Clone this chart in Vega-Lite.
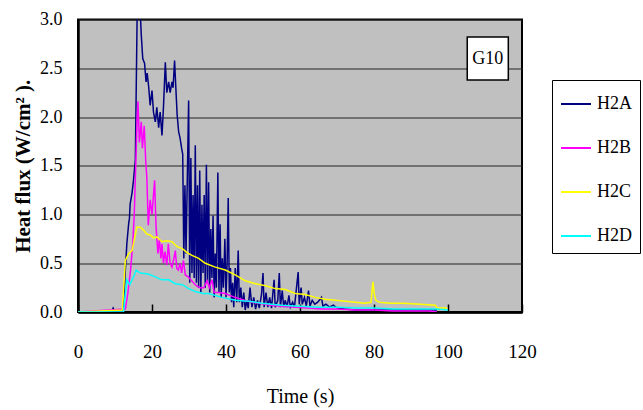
{
  "$schema": "https://vega.github.io/schema/vega-lite/v6.json",
  "width": 444,
  "height": 292.5,
  "autosize": {"type": "none"},
  "padding": {"left": 78, "top": 19.5, "right": 121, "bottom": 98},
  "background": "white",
  "config": {
    "view": {"fill": "#C0C0C0", "stroke": "black", "strokeWidth": 2},
    "font": "Liberation Serif"
  },
  "layer": [
    {
      "data": {"values": [
        {"s":"H2A","t":0,"v":0},{"s":"H2A","t":9,"v":0},{"s":"H2A","t":9.5,"v":0.04},{"s":"H2A","t":10,"v":0},{"s":"H2A","t":12,"v":0},
        {"s":"H2A","t":12.3,"v":0.05},{"s":"H2A","t":12.8,"v":0.43},{"s":"H2A","t":13.2,"v":0.7},{"s":"H2A","t":13.7,"v":0.91},{"s":"H2A","t":13.9,"v":0.96},
        {"s":"H2A","t":14.1,"v":1.11},{"s":"H2A","t":14.6,"v":1.22},{"s":"H2A","t":15,"v":1.35},{"s":"H2A","t":15.5,"v":1.56},{"s":"H2A","t":16,"v":3.1},
        {"s":"H2A","t":16.8,"v":3.1},{"s":"H2A","t":17.1,"v":2.84},{"s":"H2A","t":17.5,"v":2.6},{"s":"H2A","t":18,"v":2.55},{"s":"H2A","t":18.2,"v":2.45},
        {"s":"H2A","t":18.4,"v":2.36},{"s":"H2A","t":18.7,"v":2.45},{"s":"H2A","t":19.1,"v":2.31},{"s":"H2A","t":19.5,"v":2.12},{"s":"H2A","t":20,"v":2.27},
        {"s":"H2A","t":20.4,"v":2.05},{"s":"H2A","t":20.9,"v":1.95},{"s":"H2A","t":21.3,"v":2.1},{"s":"H2A","t":21.8,"v":1.89},{"s":"H2A","t":22.2,"v":2.05},
        {"s":"H2A","t":22.7,"v":1.81},{"s":"H2A","t":23.1,"v":2.1},{"s":"H2A","t":23.6,"v":2.56},{"s":"H2A","t":24,"v":2.25},{"s":"H2A","t":24.5,"v":2.36},
        {"s":"H2A","t":24.9,"v":2.25},{"s":"H2A","t":25.4,"v":2.36},{"s":"H2A","t":25.7,"v":2.3},{"s":"H2A","t":26.1,"v":2.58},{"s":"H2A","t":26.4,"v":2.33},
        {"s":"H2A","t":26.8,"v":2.02},{"s":"H2A","t":27.2,"v":1.85},{"s":"H2A","t":27.6,"v":1.78},{"s":"H2A","t":28,"v":1.68},{"s":"H2A","t":28.3,"v":1.62},
        {"s":"H2A","t":28.6,"v":0.55},{"s":"H2A","t":28.9,"v":1.3},{"s":"H2A","t":29.2,"v":0.6},{"s":"H2A","t":29.6,"v":1.5},{"s":"H2A","t":29.9,"v":2.17},
        {"s":"H2A","t":30.2,"v":0.3},{"s":"H2A","t":30.5,"v":1.58},{"s":"H2A","t":30.8,"v":0.4},{"s":"H2A","t":31.1,"v":1.2},{"s":"H2A","t":31.4,"v":0.35},
        {"s":"H2A","t":31.7,"v":1.71},{"s":"H2A","t":32,"v":0.3},{"s":"H2A","t":32.3,"v":1.3},{"s":"H2A","t":32.6,"v":0.25},{"s":"H2A","t":32.9,"v":1.45},
        {"s":"H2A","t":33.2,"v":0.2},{"s":"H2A","t":33.5,"v":1.1},{"s":"H2A","t":33.8,"v":0.4},{"s":"H2A","t":34.1,"v":1.2},{"s":"H2A","t":34.4,"v":0.25},
        {"s":"H2A","t":34.7,"v":1.51},{"s":"H2A","t":35,"v":0.3},{"s":"H2A","t":35.3,"v":1.33},{"s":"H2A","t":35.6,"v":0.2},{"s":"H2A","t":35.9,"v":0.85},
        {"s":"H2A","t":36.2,"v":0.35},{"s":"H2A","t":36.5,"v":0.99},{"s":"H2A","t":36.8,"v":0.15},{"s":"H2A","t":37.1,"v":0.6},{"s":"H2A","t":37.4,"v":0.25},
        {"s":"H2A","t":37.8,"v":1.43},{"s":"H2A","t":38.1,"v":0.2},{"s":"H2A","t":38.4,"v":0.9},{"s":"H2A","t":38.7,"v":0.15},{"s":"H2A","t":39,"v":0.55},
        {"s":"H2A","t":39.3,"v":0.25},{"s":"H2A","t":39.7,"v":0.75},{"s":"H2A","t":40,"v":0.15},{"s":"H2A","t":40.3,"v":0.5},{"s":"H2A","t":40.6,"v":1.17},
        {"s":"H2A","t":40.9,"v":0.2},{"s":"H2A","t":41.2,"v":0.45},{"s":"H2A","t":41.5,"v":0.1},{"s":"H2A","t":41.8,"v":0.3},{"s":"H2A","t":42.1,"v":0.05},
        {"s":"H2A","t":42.5,"v":0.45},{"s":"H2A","t":42.9,"v":0.1},{"s":"H2A","t":43.3,"v":0.63},{"s":"H2A","t":43.6,"v":0.1},{"s":"H2A","t":44,"v":0.25},
        {"s":"H2A","t":44.4,"v":0.05},{"s":"H2A","t":44.8,"v":0.2},{"s":"H2A","t":45.2,"v":0.02},{"s":"H2A","t":45.6,"v":0.12},{"s":"H2A","t":46,"v":0.04},
        {"s":"H2A","t":46.5,"v":0.25},{"s":"H2A","t":47,"v":0.05},{"s":"H2A","t":47.5,"v":0.15},{"s":"H2A","t":48,"v":0.03},{"s":"H2A","t":48.5,"v":0.12},
        {"s":"H2A","t":49,"v":0.04},{"s":"H2A","t":49.6,"v":0.18},{"s":"H2A","t":50,"v":0.4},{"s":"H2A","t":50.3,"v":0.05},{"s":"H2A","t":50.8,"v":0.2},
        {"s":"H2A","t":51.3,"v":0.05},{"s":"H2A","t":51.8,"v":0.15},{"s":"H2A","t":52.3,"v":0.04},{"s":"H2A","t":53,"v":0.33},{"s":"H2A","t":53.3,"v":0.05},
        {"s":"H2A","t":54,"v":0.12},{"s":"H2A","t":54.4,"v":0.4},{"s":"H2A","t":54.7,"v":0.05},{"s":"H2A","t":55.2,"v":0.22},{"s":"H2A","t":55.6,"v":0.05},
        {"s":"H2A","t":56,"v":0.12},{"s":"H2A","t":56.5,"v":0.05},{"s":"H2A","t":57,"v":0.17},{"s":"H2A","t":57.4,"v":0.05},{"s":"H2A","t":58,"v":0.1},
        {"s":"H2A","t":58.5,"v":0.05},{"s":"H2A","t":59.5,"v":0.41},{"s":"H2A","t":59.8,"v":0.08},{"s":"H2A","t":60.3,"v":0.25},{"s":"H2A","t":60.6,"v":0.08},
        {"s":"H2A","t":61.2,"v":0.15},{"s":"H2A","t":61.7,"v":0.06},{"s":"H2A","t":62.3,"v":0.22},{"s":"H2A","t":62.7,"v":0.06},{"s":"H2A","t":63.3,"v":0.12},
        {"s":"H2A","t":64,"v":0.08},{"s":"H2A","t":64.8,"v":0.1},{"s":"H2A","t":65.8,"v":0.15},{"s":"H2A","t":66.2,"v":0.06},{"s":"H2A","t":67,"v":0.08},
        {"s":"H2A","t":68,"v":0.05},{"s":"H2A","t":69,"v":0.07},{"s":"H2A","t":70,"v":0.04},{"s":"H2A","t":72,"v":0.03},{"s":"H2A","t":75,"v":0.02},
        {"s":"H2A","t":80,"v":0.02},{"s":"H2A","t":85,"v":0.02},{"s":"H2A","t":90,"v":0.02},{"s":"H2A","t":95,"v":0.02},{"s":"H2A","t":97,"v":0.02},

        {"s":"H2B","t":0,"v":0},{"s":"H2B","t":12.8,"v":0.03},{"s":"H2B","t":13.5,"v":0.2},{"s":"H2B","t":14.2,"v":0.43},{"s":"H2B","t":14.8,"v":0.7},
        {"s":"H2B","t":15.2,"v":1.0},{"s":"H2B","t":15.6,"v":1.5},{"s":"H2B","t":16,"v":2.0},{"s":"H2B","t":16.2,"v":2.16},{"s":"H2B","t":16.6,"v":1.74},
        {"s":"H2B","t":17.1,"v":1.95},{"s":"H2B","t":17.4,"v":1.68},{"s":"H2B","t":17.9,"v":1.91},{"s":"H2B","t":18.3,"v":1.55},{"s":"H2B","t":18.6,"v":1.38},
        {"s":"H2B","t":19,"v":0.89},{"s":"H2B","t":19.5,"v":1.15},{"s":"H2B","t":20,"v":1.0},{"s":"H2B","t":20.4,"v":1.2},{"s":"H2B","t":20.7,"v":1.35},
        {"s":"H2B","t":21.1,"v":0.87},{"s":"H2B","t":21.6,"v":0.6},{"s":"H2B","t":22,"v":0.75},{"s":"H2B","t":22.4,"v":0.55},{"s":"H2B","t":22.7,"v":0.7},
        {"s":"H2B","t":23.1,"v":0.5},{"s":"H2B","t":23.5,"v":0.62},{"s":"H2B","t":24,"v":0.48},{"s":"H2B","t":24.4,"v":0.7},{"s":"H2B","t":24.9,"v":0.5},
        {"s":"H2B","t":25.4,"v":0.46},{"s":"H2B","t":25.9,"v":0.55},{"s":"H2B","t":26.3,"v":0.63},{"s":"H2B","t":26.7,"v":0.45},{"s":"H2B","t":27.1,"v":0.43},
        {"s":"H2B","t":27.6,"v":0.5},{"s":"H2B","t":28,"v":0.4},{"s":"H2B","t":28.5,"v":0.53},{"s":"H2B","t":29,"v":0.38},{"s":"H2B","t":29.8,"v":0.36},
        {"s":"H2B","t":30.5,"v":0.33},{"s":"H2B","t":31.2,"v":0.3},{"s":"H2B","t":32,"v":0.27},{"s":"H2B","t":33,"v":0.25},{"s":"H2B","t":34,"v":0.25},
        {"s":"H2B","t":34.9,"v":0.32},{"s":"H2B","t":35.5,"v":0.25},{"s":"H2B","t":36.2,"v":0.33},{"s":"H2B","t":36.8,"v":0.2},{"s":"H2B","t":38,"v":0.2},
        {"s":"H2B","t":39.8,"v":0.19},{"s":"H2B","t":41,"v":0.17},{"s":"H2B","t":42.5,"v":0.15},{"s":"H2B","t":45,"v":0.12},{"s":"H2B","t":47,"v":0.1},
        {"s":"H2B","t":49,"v":0.09},{"s":"H2B","t":52,"v":0.07},{"s":"H2B","t":55,"v":0.06},{"s":"H2B","t":58,"v":0.05},{"s":"H2B","t":62,"v":0.04},
        {"s":"H2B","t":66,"v":0.03},{"s":"H2B","t":70,"v":0.03},{"s":"H2B","t":75,"v":0.02},{"s":"H2B","t":80,"v":0.02},{"s":"H2B","t":85,"v":0.01},
        {"s":"H2B","t":90,"v":0.01},{"s":"H2B","t":95,"v":0.01},{"s":"H2B","t":97,"v":0.0},

        {"s":"H2C","t":0,"v":0},{"s":"H2C","t":12,"v":0.02},{"s":"H2C","t":12.8,"v":0.53},{"s":"H2C","t":13.7,"v":0.6},{"s":"H2C","t":14.6,"v":0.63},
        {"s":"H2C","t":15.2,"v":0.74},{"s":"H2C","t":15.9,"v":0.87},{"s":"H2C","t":16.8,"v":0.87},{"s":"H2C","t":17.7,"v":0.84},{"s":"H2C","t":18.6,"v":0.8},
        {"s":"H2C","t":19.5,"v":0.79},{"s":"H2C","t":20.4,"v":0.76},{"s":"H2C","t":21.3,"v":0.77},{"s":"H2C","t":22.7,"v":0.72},{"s":"H2C","t":24,"v":0.73},
        {"s":"H2C","t":25.4,"v":0.72},{"s":"H2C","t":26.8,"v":0.67},{"s":"H2C","t":28.2,"v":0.65},{"s":"H2C","t":29.5,"v":0.61},{"s":"H2C","t":30.8,"v":0.58},
        {"s":"H2C","t":32.6,"v":0.55},{"s":"H2C","t":34.4,"v":0.5},{"s":"H2C","t":37.1,"v":0.46},{"s":"H2C","t":39.8,"v":0.43},{"s":"H2C","t":42.5,"v":0.38},
        {"s":"H2C","t":45.2,"v":0.32},{"s":"H2C","t":48,"v":0.29},{"s":"H2C","t":50.7,"v":0.27},{"s":"H2C","t":53.3,"v":0.24},{"s":"H2C","t":56,"v":0.23},
        {"s":"H2C","t":58.7,"v":0.19},{"s":"H2C","t":61.4,"v":0.18},{"s":"H2C","t":64.1,"v":0.15},{"s":"H2C","t":66.8,"v":0.13},{"s":"H2C","t":69.6,"v":0.12},
        {"s":"H2C","t":72.3,"v":0.11},{"s":"H2C","t":75,"v":0.1},{"s":"H2C","t":77.6,"v":0.09},{"s":"H2C","t":79.2,"v":0.1},{"s":"H2C","t":79.7,"v":0.31},
        {"s":"H2C","t":80.1,"v":0.18},{"s":"H2C","t":80.5,"v":0.12},{"s":"H2C","t":81.5,"v":0.1},{"s":"H2C","t":84.4,"v":0.09},{"s":"H2C","t":88,"v":0.09},
        {"s":"H2C","t":92.5,"v":0.08},{"s":"H2C","t":96.6,"v":0.07},{"s":"H2C","t":97,"v":0.04},{"s":"H2C","t":99.8,"v":0.04},

        {"s":"H2D","t":0,"v":0},{"s":"H2D","t":12.3,"v":0.0},{"s":"H2D","t":13.2,"v":0.33},{"s":"H2D","t":14,"v":0.28},{"s":"H2D","t":15,"v":0.36},
        {"s":"H2D","t":15.7,"v":0.43},{"s":"H2D","t":16.8,"v":0.4},{"s":"H2D","t":19,"v":0.39},{"s":"H2D","t":20.9,"v":0.36},{"s":"H2D","t":22.7,"v":0.33},
        {"s":"H2D","t":24.5,"v":0.33},{"s":"H2D","t":26.3,"v":0.29},{"s":"H2D","t":28.2,"v":0.28},{"s":"H2D","t":29.9,"v":0.24},{"s":"H2D","t":31.7,"v":0.21},
        {"s":"H2D","t":33.9,"v":0.19},{"s":"H2D","t":35.3,"v":0.19},{"s":"H2D","t":38.9,"v":0.15},{"s":"H2D","t":42.5,"v":0.12},{"s":"H2D","t":46.1,"v":0.11},
        {"s":"H2D","t":49.7,"v":0.09},{"s":"H2D","t":55,"v":0.07},{"s":"H2D","t":60,"v":0.06},{"s":"H2D","t":65,"v":0.05},{"s":"H2D","t":70,"v":0.05},
        {"s":"H2D","t":75,"v":0.04},{"s":"H2D","t":80,"v":0.04},{"s":"H2D","t":85,"v":0.03},{"s":"H2D","t":90,"v":0.03},{"s":"H2D","t":95,"v":0.03},
        {"s":"H2D","t":97,"v":0.03},{"s":"H2D","t":100,"v":0.02}
      ]},
      "mark": {"type": "line", "clip": true, "strokeWidth": 1.5, "interpolate": "linear"},
      "encoding": {
        "x": {"field": "t", "type": "quantitative",
          "scale": {"domain": [0, 120], "nice": false},
          "axis": {"values": [0, 20, 40, 60, 80, 100, 120], "grid": false,
            "title": "Time (s)", "titleFont": "Liberation Serif", "titleFontSize": 20, "titleFontWeight": "normal", "titleColor": "black", "titlePadding": 25,
            "labelFont": "Liberation Serif", "labelFontSize": 19, "labelColor": "black", "labelPadding": 38, "labelBaseline": "top", "labelFlush": false, "labelOverlap": false,
            "tickSize": -8, "tickColor": "black", "tickWidth": 1.5,
            "domainColor": "black", "domainWidth": 2.5}},
        "y": {"field": "v", "type": "quantitative",
          "scale": {"domain": [0, 3], "nice": false},
          "axis": {"values": [0, 0.5, 1, 1.5, 2, 2.5, 3], "format": ".1f", "grid": true, "gridColor": "#222", "gridWidth": 1.2, "gridOpacity": 1,
            "ticks": false, "labelPadding": 16, "labelFlush": false, "labelOverlap": false,
            "title": "Heat flux (W/cm² ).", "titleFont": "Liberation Serif", "titleFontSize": 21, "titleFontWeight": "bold", "titleColor": "black", "titlePadding": 6,
            "labelFont": "Liberation Serif", "labelFontSize": 18, "labelColor": "black",
            "domainColor": "black", "domainWidth": 2.5}},
        "color": {"field": "s", "type": "nominal",
          "scale": {"domain": ["H2A", "H2B", "H2C", "H2D"], "range": ["#000080", "#FF00FF", "#FFFF00", "#00FFFF"]},
          "legend": {"title": null, "orient": "none", "legendX": 474, "legendY": 60.5,
            "symbolType": "stroke", "symbolSize": 900, "symbolStrokeWidth": 2,
            "labelFont": "Liberation Serif", "labelFontSize": 18, "labelColor": "black", "labelOffset": 5,
            "rowPadding": 19, "padding": 8,
            "strokeColor": "black", "fillColor": "white"}}
      }
    },
    {
      "data": {"values": [{"label": "G10", "x1": 105.2, "x2": 116.3, "y1": 2.38, "y2": 2.82, "xc": 110.75, "yc": 2.6}]},
      "layer": [
        {"mark": {"type": "rect", "fill": "white", "stroke": "black", "strokeWidth": 1.5},
          "encoding": {
            "x": {"field": "x1", "type": "quantitative"},
            "x2": {"field": "x2"},
            "y": {"field": "y1", "type": "quantitative"},
            "y2": {"field": "y2"}}},
        {"mark": {"type": "text", "font": "Liberation Serif", "fontSize": 18, "color": "black", "baseline": "middle", "align": "center"},
          "encoding": {
            "x": {"field": "xc", "type": "quantitative"},
            "y": {"field": "yc", "type": "quantitative"},
            "text": {"field": "label"}}}
      ]
    }
  ]
}
